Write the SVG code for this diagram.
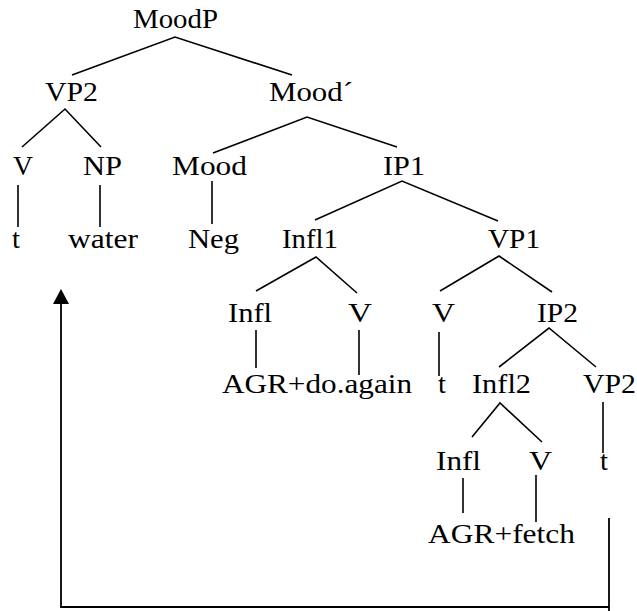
<svg xmlns="http://www.w3.org/2000/svg" width="637" height="611" viewBox="0 0 637 611">
<style>
.t text{font-family:'Liberation Serif','Times New Roman',Times,serif;font-size:27px;fill:#000}
.e{stroke:#000;stroke-width:1.6;fill:none}
.a{stroke:#000;stroke-width:1.8;fill:none}
</style>
<defs>
<marker id="ah" viewBox="0 0 15 16" refX="4" refY="8" markerWidth="15" markerHeight="16" markerUnits="userSpaceOnUse" orient="auto">
<path d="M0,0 L15,8 L0,16 Z" fill="#000"/>
</marker>
</defs>
<rect width="637" height="611" fill="#fff"/>
<g class="t" font-family="Liberation Serif" font-size="27">
<g id="n-moodp"><text x="133" y="28" textLength="85" lengthAdjust="spacingAndGlyphs">MoodP</text></g>
<g id="n-vp2a"><text x="45" y="101" textLength="53" lengthAdjust="spacingAndGlyphs">VP2</text></g>
<g id="n-moodbar"><text x="269" y="101" textLength="84" lengthAdjust="spacingAndGlyphs">Mood´</text></g>
<g id="n-v1"><text x="13" y="175" textLength="20" lengthAdjust="spacingAndGlyphs">V</text></g>
<g id="n-np"><text x="83" y="175" textLength="39" lengthAdjust="spacingAndGlyphs">NP</text></g>
<g id="n-mood"><text x="172" y="175" textLength="75" lengthAdjust="spacingAndGlyphs">Mood</text></g>
<g id="n-ip1"><text x="383" y="175" textLength="42" lengthAdjust="spacingAndGlyphs">IP1</text></g>
<g id="n-t1"><text x="12" y="248" textLength="8" lengthAdjust="spacingAndGlyphs">t</text></g>
<g id="n-water"><text x="68" y="248" textLength="70" lengthAdjust="spacingAndGlyphs">water</text></g>
<g id="n-neg"><text x="188" y="248" textLength="51" lengthAdjust="spacingAndGlyphs">Neg</text></g>
<g id="n-infl1"><text x="282" y="248" textLength="56" lengthAdjust="spacingAndGlyphs">Infl1</text></g>
<g id="n-vp1"><text x="488" y="248" textLength="52" lengthAdjust="spacingAndGlyphs">VP1</text></g>
<g id="n-infla"><text x="228" y="322" textLength="44" lengthAdjust="spacingAndGlyphs">Infl</text></g>
<g id="n-va"><text x="348" y="322" textLength="24" lengthAdjust="spacingAndGlyphs">V</text></g>
<g id="n-vb"><text x="432" y="322" textLength="23" lengthAdjust="spacingAndGlyphs">V</text></g>
<g id="n-ip2"><text x="537" y="322" textLength="41" lengthAdjust="spacingAndGlyphs">IP2</text></g>
<g id="n-agr1"><text x="222" y="393" textLength="190" lengthAdjust="spacingAndGlyphs">AGR+do.again</text></g>
<g id="n-t2"><text x="438" y="393" textLength="8" lengthAdjust="spacingAndGlyphs">t</text></g>
<g id="n-infl2"><text x="472" y="393" textLength="59" lengthAdjust="spacingAndGlyphs">Infl2</text></g>
<g id="n-vp2b"><text x="583" y="393" textLength="53" lengthAdjust="spacingAndGlyphs">VP2</text></g>
<g id="n-inflb"><text x="436" y="470" textLength="45" lengthAdjust="spacingAndGlyphs">Infl</text></g>
<g id="n-vc"><text x="529" y="470" textLength="23" lengthAdjust="spacingAndGlyphs">V</text></g>
<g id="n-t3"><text x="600" y="470" textLength="8" lengthAdjust="spacingAndGlyphs">t</text></g>
<g id="n-agr2"><text x="428" y="543" textLength="147" lengthAdjust="spacingAndGlyphs">AGR+fetch</text></g>
</g>
<g id="connectors">
<path class="e" d="M72,75 L175,37 L292,75"/>
<path class="e" d="M22,147 L65,109 L101,147"/>
<path class="e" d="M213,153 L307,117 L397,147"/>
<path class="e" d="M18,185 V227 M100,185 V227 M212,181 V224"/>
<path class="e" d="M315,220 L402,181 L498,221"/>
<path class="e" d="M256,291 L316,257 L357,293"/>
<path class="e" d="M440,291 L499,256 L552,292"/>
<path class="e" d="M256,330 V368 M359,330 V375 M439,332 V376"/>
<path class="e" d="M499,367 L549,328 L596,367"/>
<path class="e" d="M472,437 L500,403 L542,442"/>
<path class="e" d="M603,402 V453 M463,478 V513 M536,475 V522"/>
<path class="a" d="M609,518 V611"/>
<path class="a" d="M609,607 H61 V300" marker-end="url(#ah)"/>
</g>
</svg>
